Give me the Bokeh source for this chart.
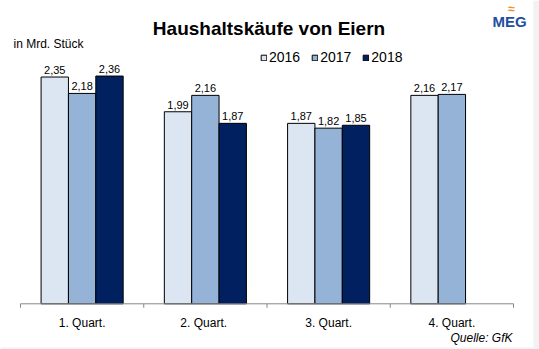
from bokeh.plotting import figure
from bokeh.models import ColumnDataSource, Label, Legend, LegendItem, Range1d, BoxAnnotation
from bokeh.core.properties import value
from bokeh.transform import dodge
from bokeh.embed import file_html
from bokeh.resources import INLINE

quarters = ["1. Quart.", "2.  Quart.", "3. Quart.", "4. Quart."]
years = ["2016", "2017", "2018"]
v2016 = [2.35, 1.99, 1.87, 2.16]
v2017 = [2.18, 2.16, 1.82, 2.17]
v2018 = [2.36, 1.87, 1.85, float("nan")]
colors = ["#dce6f2", "#95b3d7", "#002060"]

FONT = "Liberation Sans"
W, H = 539, 349
PX_X = 123.25   # pixels per category
PX_Y = 96.5     # pixels per unit
X0_PX = 20      # left edge of axis
Y0_PX = 303.3   # baseline from top

pos = [i + 0.5 for i in range(len(quarters))]
def fmt(v):
    return "" if v != v else f"{v:.2f}".replace(".", ",")

src = ColumnDataSource(dict(
    x=pos, q=quarters,
    y2016=v2016, y2017=v2017, y2018=v2018,
    l2016=[fmt(v) for v in v2016],
    l2017=[fmt(v) for v in v2017],
    l2018=[fmt(v) for v in v2018],
))

xs = -X0_PX / PX_X
ys = -(H - Y0_PX) / PX_Y
p = figure(width=W, height=H, output_backend="svg", toolbar_location=None,
           x_range=Range1d(xs, xs + W / PX_X), y_range=Range1d(ys, ys + H / PX_Y),
           min_border=0, min_border_left=0, min_border_right=0,
           min_border_top=0, min_border_bottom=0)
p.outline_line_color = None
p.axis.visible = False
p.grid.visible = False

p.add_layout(BoxAnnotation(left=533, left_units="screen", fill_color="#f2f2f2",
                           fill_alpha=1, line_color=None, level="underlay"))
p.add_layout(BoxAnnotation(top=2, top_units="screen", fill_color="#f2f2f2",
                           fill_alpha=1, line_color=None, level="underlay"))

w = 0.222
offsets = [-w, 0, w]
renderers = []
for yr, col, off in zip(years, colors, offsets):
    r = p.vbar(x=dodge("x", off), top="y" + yr, width=w, bottom=0, source=src,
               fill_color=col, line_color="#000000", line_width=1)
    renderers.append(r)
    p.text(x=dodge("x", off), y="y" + yr, text="l" + yr, source=src,
           text_align="center", text_baseline="alphabetic", y_offset=-7,
           text_font_size="11px", text_color="#000000", text_font=value(FONT))

# category axis
n = len(quarters)
p.line(x=[0, n], y=[0, 0], line_color="#868686", line_width=1)
p.segment(x0=list(range(n + 1)), y0=[0] * (n + 1), x1=list(range(n + 1)),
          y1=[-4 / PX_Y] * (n + 1), line_color="#868686", line_width=1)
p.text(x="x", y=0, text="q", source=src, y_offset=19,
       text_align="center", text_baseline="alphabetic",
       text_font_size="12px", text_color="#000000", text_font=value(FONT))

legend = Legend(items=[LegendItem(label=y, renderers=[r]) for y, r in zip(years, renderers)],
                orientation="horizontal", location=(260, 284),
                label_text_font=FONT, label_text_font_size="14px",
                label_text_color="#000000",
                glyph_width=7, glyph_height=7, label_height=14, spacing=11,
                label_standoff=2,
                background_fill_alpha=0, border_line_color=None,
                padding=0, margin=0)
p.add_layout(legend, "center")

def lab(x, y_top, text, text_color="#000000", **kw):
    p.add_layout(Label(x=x, y=H - y_top, x_units="screen", y_units="screen", text=text,
                       text_font=FONT, text_baseline="alphabetic",
                       text_color=text_color, **kw))

lab(268.5, 28, "Haushaltskäufe von Eiern", text_font_style="bold",
    text_font_size="19px", text_align="center")
lab(13, 43, "in Mrd. Stück", text_font_size="12px")
lab(512, 337, "Quelle: GfK", text_font_style="italic", text_font_size="12px",
    text_align="right")
lab(509, 21, "MEG", text_font_style="bold", text_font_size="15px",
    text_color="#1f4f9e", text_align="center")
lab(511, 8, "\u2248", text_font_style="bold", text_font_size="12px",
    text_color="#f08a24", text_align="center")

open("out.html", "w").write(file_html(p, INLINE))
